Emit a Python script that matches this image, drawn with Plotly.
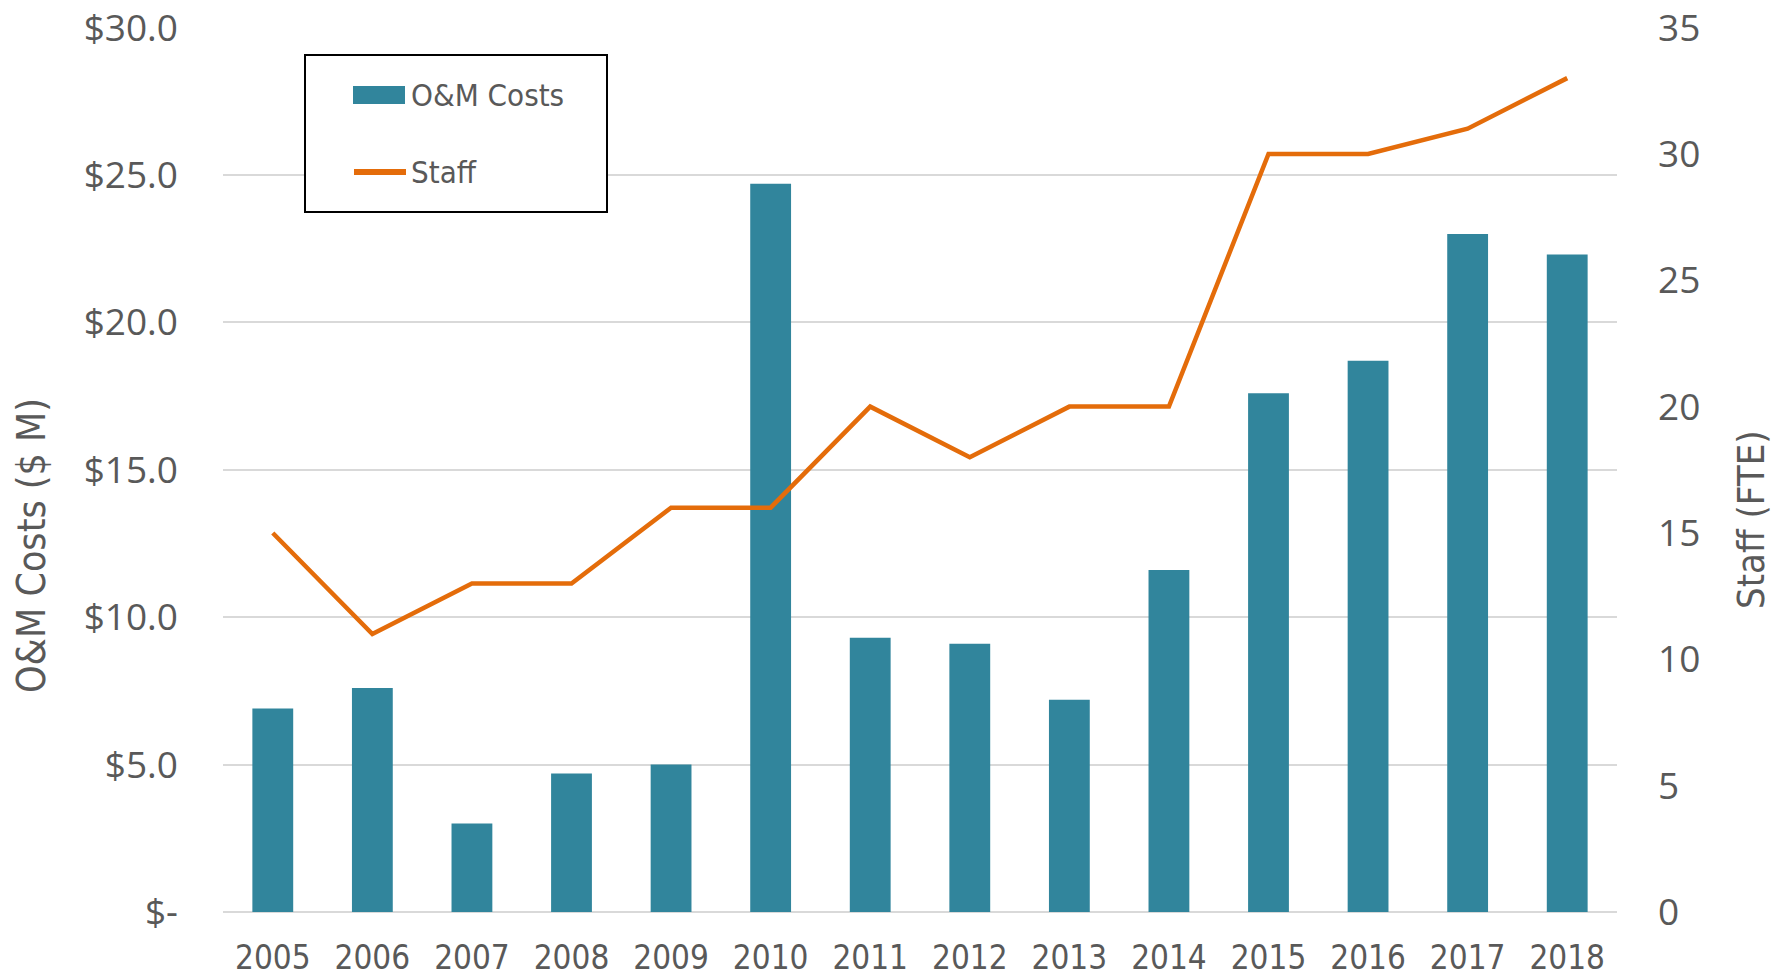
import plotly.graph_objects as go

years = ["2005", "2006", "2007", "2008", "2009", "2010", "2011", "2012", "2013", "2014", "2015", "2016", "2017", "2018"]
om_costs = [6.9, 7.6, 3.0, 4.7, 5.0, 24.7, 9.3, 9.1, 7.2, 11.6, 17.6, 18.7, 23.0, 22.3]
staff = [15, 11, 13, 13, 16, 16, 20, 18, 20, 20, 30, 30, 31, 33]

left_tickvals = [0, 5, 10, 15, 20, 25, 30]
left_ticktext = ["$-", "$5.0", "$10.0", "$15.0", "$20.0", "$25.0", "$30.0"]
right_tickvals = [0, 5, 10, 15, 20, 25, 30, 35]

W, H = 1783, 976
ML, MR, MT, MB = 223, 166, 27, 64
TEXT = "#595959"
GRID = "#d9d9d9"
BAR_COLOR = "#31859C"
LINE_COLOR = "#E46C0A"
TICKFONT = dict(family="Open Sans, Lato, sans-serif", size=37, color=TEXT)
NARROW = "DejaVu Sans Condensed, Liberation Sans Narrow, Arial Narrow, sans-serif"


def px_x(px):
    return (px - ML) / (W - ML - MR)


def px_y(py):
    return (H - MB - py) / (H - MT - MB)


fig = go.Figure()
fig.add_trace(go.Bar(
    x=years, y=om_costs, name="O&M Costs",
    marker=dict(color=BAR_COLOR, line=dict(width=0)),
    yaxis="y",
))
fig.add_trace(go.Scatter(
    x=years, y=staff, name="Staff", mode="lines",
    line=dict(color=LINE_COLOR, width=4.5),
    yaxis="y2",
))

# Legend drawn as a boxed key (border, swatches, labels)
shapes = [
    dict(type="rect", xref="paper", yref="paper",
         x0=px_x(305), x1=px_x(607), y0=px_y(212), y1=px_y(55),
         line=dict(color="black", width=2), fillcolor="white", layer="above"),
    dict(type="rect", xref="paper", yref="paper",
         x0=px_x(353), x1=px_x(405), y0=px_y(104), y1=px_y(86),
         line=dict(width=0), fillcolor=BAR_COLOR, layer="above"),
    dict(type="line", xref="paper", yref="paper",
         x0=px_x(354), x1=px_x(406), y0=px_y(172), y1=px_y(172),
         line=dict(color=LINE_COLOR, width=6), layer="above"),
]
annotations = [
    dict(text="O&M Costs", xref="paper", yref="paper", x=px_x(409), y=px_y(95),
         xanchor="left", yanchor="middle", showarrow=False,
         font=dict(family=NARROW, size=31, color=TEXT)),
    dict(text="Staff", xref="paper", yref="paper", x=px_x(409), y=px_y(172),
         xanchor="left", yanchor="middle", showarrow=False,
         font=dict(family=NARROW, size=31, color=TEXT)),
    # axis titles
    dict(text="O&M Costs ($ M)", xref="paper", yref="paper", x=px_x(31), y=px_y(546),
         xanchor="center", yanchor="middle", showarrow=False, textangle=-90,
         font=dict(family=NARROW, size=39, color=TEXT)),
    dict(text="Staff (FTE)", xref="paper", yref="paper", x=px_x(1751), y=px_y(520),
         xanchor="center", yanchor="middle", showarrow=False, textangle=-90,
         font=dict(family=NARROW, size=38, color=TEXT)),
]

fig.update_layout(
    width=W, height=H,
    margin=dict(l=ML, r=MR, t=MT, b=MB, autoexpand=False),
    paper_bgcolor="white", plot_bgcolor="white",
    bargap=0.59,
    showlegend=False,
    shapes=shapes,
    annotations=annotations,
    xaxis=dict(
        type="category", showgrid=False, showline=False, zeroline=False,
        ticks="", tickfont=dict(family=NARROW, size=33, color=TEXT),
        ticklabelstandoff=23, automargin=False, ticklabeloverflow="allow",
    ),
    yaxis=dict(
        range=[0, 30.02], tickvals=left_tickvals, ticktext=left_ticktext,
        showgrid=True, gridcolor=GRID, gridwidth=2,
        zeroline=True, zerolinecolor=GRID, zerolinewidth=2,
        showline=False, ticks="", tickfont=TICKFONT,
        ticklabelstandoff=44, automargin=False, ticklabeloverflow="allow",
    ),
    yaxis2=dict(
        range=[0, 35.0233], tickvals=right_tickvals, overlaying="y", side="right",
        showgrid=False, zeroline=False, showline=False, ticks="",
        tickfont=TICKFONT, ticklabelstandoff=40, automargin=False,
        ticklabeloverflow="allow",
    ),
)

fig.write_html(
    "out.html",
    config={"displayModeBar": False},
    post_script="document.body.style.margin='0';document.body.style.overflow='hidden';",
)
